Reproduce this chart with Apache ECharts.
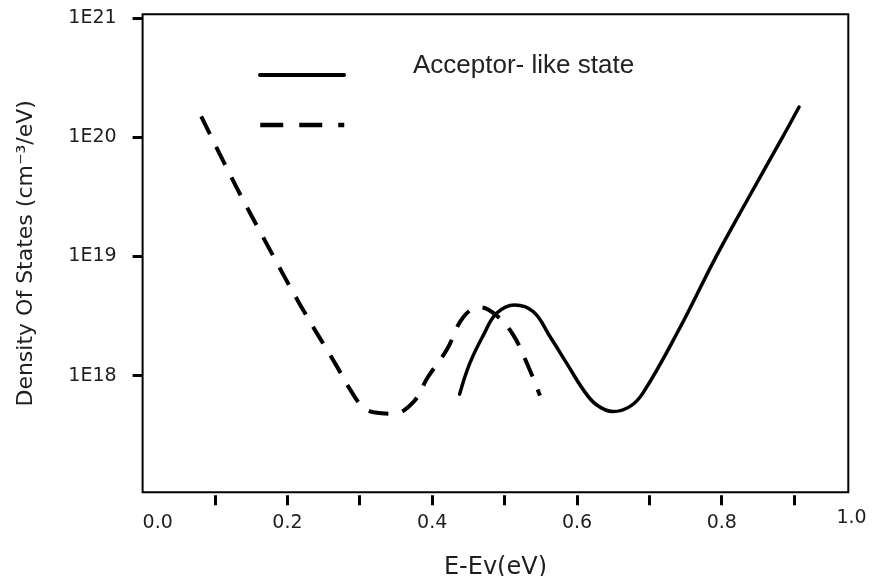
<!DOCTYPE html>
<html>
<head>
<meta charset="utf-8">
<script src="https://cdn.jsdelivr.net/npm/echarts@6/dist/echarts.min.js"></script>
<style>
  html, body { margin: 0; padding: 0; background: #ffffff; }
  #chart { width: 873px; height: 576px; }
</style>
</head>
<body>
<div id="chart"></div>
<script>
// Density of trap states versus energy above the valence band edge.
const acceptorName = 'Acceptor- like state';
const donorName = 'Donor- like state';

// Acceptor-like states (solid curve): E - Ev in eV, DOS in cm^-3/eV
const acceptorX = [0.438, 0.452, 0.471, 0.489, 0.514, 0.540, 0.563, 0.586, 0.609, 0.627, 0.650, 0.673, 0.691, 0.742, 0.792, 0.837, 0.884, 0.907];
const acceptorY = [7.0e17, 1.27e18, 2.2e18, 3.34e18, 3.93e18, 3.44e18, 2.12e18, 1.27e18, 7.6e17, 5.7e17, 5.0e17, 5.5e17, 7.1e17, 2.5e18, 9.9e18, 3.1e19, 1.0e20, 1.8e20];

// Donor-like states (dashed curve)
const donorX = [0.081, 0.128, 0.172, 0.217, 0.269, 0.287, 0.304, 0.321, 0.346, 0.374, 0.394, 0.420, 0.443, 0.466, 0.489, 0.512, 0.532, 0.549];
const donorY = [1.5e20, 4.0e19, 1.26e19, 4.0e18, 1.18e18, 7.6e17, 5.5e17, 4.9e17, 4.8e17, 6.0e17, 9.7e17, 1.64e18, 3.1e18, 3.75e18, 3.2e18, 2.2e18, 1.23e18, 6.8e17];

// Axis ticks and labels
const xTickValues = [0.1, 0.2, 0.3, 0.4, 0.5, 0.6, 0.7, 0.8, 0.9];
const yTickValues = [1e18, 1e19, 1e20, 1e21];
const yTickLabels = ['1E18', '1E19', '1E20', '1E21'];
const xRange = [0, 0.975];
const yRange = [1.05e17, 1.08e21];

const zip = (xs, ys) => xs.map((x, i) => [x, ys[i]]);
const textColor = '#1e1e1e';
const labelFont = 'DejaVu Sans';

const chart = echarts.init(document.getElementById('chart'), null, { renderer: 'canvas' });

const option = {
  animation: false,
  backgroundColor: '#ffffff',
  grid: [
    { left: 142.6, right: 24.7, top: 14.3, bottom: 83.7, outerBoundsMode: 'none', containLabel: false,
      show: true, borderColor: '#000', borderWidth: 2, backgroundColor: 'transparent' },
    { left: 142.6, right: 6.4, top: 14.3, bottom: 83.7, outerBoundsMode: 'none', containLabel: false, show: false }
  ],
  xAxis: [
    {
      type: 'value', gridIndex: 0, min: xRange[0], max: xRange[1], offset: 3,
      axisLine: { show: false },
      axisTick: { show: true, customValues: xTickValues, length: 10, lineStyle: { color: '#000', width: 3 } },
      axisLabel: { show: false },
      splitLine: { show: false },
      name: 'E-Ev(eV)', nameLocation: 'middle', nameGap: 60,
      nameTextStyle: { fontFamily: labelFont, fontSize: 24, color: textColor }
    },
    {
      type: 'value', gridIndex: 1, min: 0, max: 1, interval: 0.2,
      axisLine: { show: false }, axisTick: { show: false }, splitLine: { show: false },
      axisLabel: {
        margin: 21, fontFamily: labelFont, fontSize: 19, color: textColor,
        alignMinLabel: 'left', alignMaxLabel: 'right',
        formatter: v => (v >= 1 ? '{up|' + v.toFixed(1) + '}' : v.toFixed(1)),
        rich: { up: { fontFamily: labelFont, fontSize: 19, color: textColor, lineHeight: 9 } }
      }
    }
  ],
  yAxis: [
    {
      type: 'log', gridIndex: 0, min: yRange[0], max: yRange[1],
      axisLine: { show: false },
      axisTick: { show: true, customValues: yTickValues, length: 10, lineStyle: { color: '#000', width: 3 } },
      axisLabel: {
        customValues: yTickValues, margin: 26, fontFamily: labelFont, fontSize: 19, color: textColor,
        formatter: v => {
          const e = Math.round(Math.log10(v));
          const i = yTickValues.findIndex(t => Math.round(Math.log10(t)) === e);
          return i >= 0 ? yTickLabels[i] : '';
        }
      },
      splitLine: { show: false }, minorTick: { show: false },
      name: 'Density Of States (cm⁻³/eV)', nameLocation: 'middle', nameGap: 105,
      nameTextStyle: { fontFamily: labelFont, fontSize: 22, color: textColor }
    },
    { type: 'value', gridIndex: 1, min: 0, max: 1, show: false }
  ],
  legend: [
    {
      data: [acceptorName], left: 258, top: 53, padding: 0, selectedMode: false,
      itemWidth: 84, itemHeight: 14,
      itemStyle: { opacity: 0 },
      lineStyle: { width: 4, color: '#000' },
      formatter: name => '{t|' + name + '}',
      textStyle: {
        rich: { t: { fontFamily: 'Liberation Sans', fontSize: 26, color: '#222', padding: [0, 0, 18, 64] } }
      }
    },
    {
      data: [donorName], left: 258, top: 118, padding: 0, selectedMode: false,
      itemWidth: 84, itemHeight: 14,
      itemStyle: { opacity: 0 },
      lineStyle: { width: 4.5, color: '#000', type: [23, 16] },
      formatter: () => ''
    }
  ],
  series: [
    {
      name: acceptorName, type: 'line', xAxisIndex: 0, yAxisIndex: 0,
      data: zip(acceptorX, acceptorY), smooth: 0.4, symbol: 'none',
      itemStyle: { color: '#000' },
      lineStyle: { color: '#000', width: 3.5, cap: 'round' }
    },
    {
      name: donorName, type: 'line', xAxisIndex: 0, yAxisIndex: 0,
      data: zip(donorX, donorY), smooth: 0.4, symbol: 'none',
      itemStyle: { color: '#000' },
      lineStyle: { color: '#000', width: 4, type: [20, 14], cap: 'butt' }
    }
  ]
};

chart.setOption(option);
</script>
</body>
</html>
